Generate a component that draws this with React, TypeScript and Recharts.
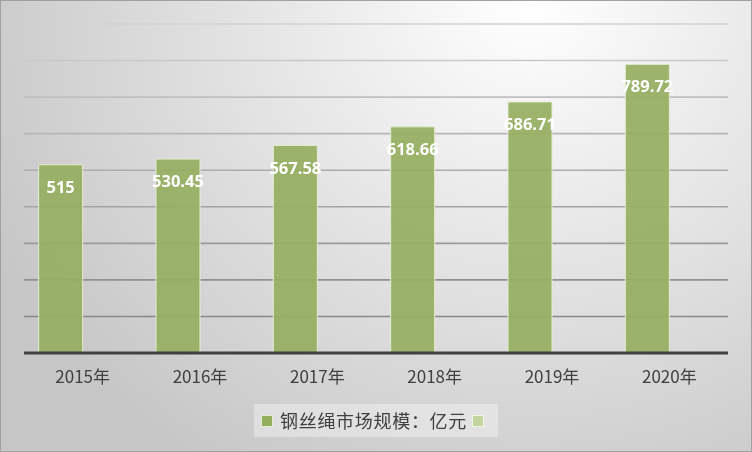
import React from 'react';
import { BarChart, Bar, XAxis, YAxis, CartesianGrid, Legend, LabelList } from 'recharts';

const years = ['2015年', '2016年', '2017年', '2018年', '2019年', '2020年'];
const marketSize = [515, 530.45, 567.58, 618.66, 686.71, 789.72];
const blankSeries = [null, null, null, null, null, null];
const seriesName = '钢丝绳市场规模：亿元';
const yTicks = [0, 100, 200, 300, 400, 500, 600, 700, 800, 900];

const data = years.map((year, i) => ({ year, size: marketSize[i], blank: blankSeries[i] }));

const CJK = '"Noto Sans CJK SC", "Noto Sans", sans-serif';

const BarLabel = (props: any) => {
  const { x, y, width, value } = props;
  if (value == null) return null;
  return (
    <text
      x={Number(x) + Number(width) / 2}
      y={Number(y) + 28}
      textAnchor="middle"
      fill="#ffffff"
      fontFamily='"Open Sans", sans-serif'
      fontWeight={700}
      fontSize={16.5}
    >
      {value}
    </text>
  );
};

const LegendContent = () => (
  <div style={{ display: 'flex', justifyContent: 'center' }}>
    <div
      style={{
        height: 33,
        width: 244,
        background: 'rgba(255,255,255,0.35)',
        display: 'flex',
        alignItems: 'center',
        boxSizing: 'border-box',
        paddingLeft: 7,
      }}
    >
      <span style={{ display: 'inline-block', width: 10, height: 10, background: '#94ae60', border: '1px solid #e4ecd4' }} />
      <span style={{ marginLeft: 7, fontFamily: CJK, fontSize: 18, color: '#404040', lineHeight: '33px', letterSpacing: 0.7, whiteSpace: 'nowrap' }}>
        {seriesName}
      </span>
      <span style={{ display: 'inline-block', marginLeft: 5, width: 10, height: 10, background: '#c3d5a0', border: '1px solid #eef3e4' }} />
    </div>
  </div>
);

export default function App() {
  return (
    <div
      style={{
        position: 'fixed',
        left: 0,
        top: 0,
        width: 752,
        height: 452,
        boxSizing: 'border-box',
        border: '1px solid #a0a0a0',
        background: 'radial-gradient(ellipse 600px 560px at 530px 0px, #ffffff 0%, #c6c6c6 100%)',
        overflow: 'hidden',
      }}
    >
      <div style={{ position: 'absolute', left: -1, top: -1 }}>
        <BarChart
          width={752}
          height={452}
          data={data}
          margin={{ top: 24, right: 24, left: 24, bottom: 15 }}
          barCategoryGap="12.5%"
          barGap={0}
        >
          <defs>
            <linearGradient id="gridGrad" gradientUnits="userSpaceOnUse" x1="0" y1="24" x2="0" y2="316">
              <stop offset="0%" stopColor="#d2d2d2" />
              <stop offset="100%" stopColor="#888888" />
            </linearGradient>
          </defs>
          <CartesianGrid vertical={false} stroke="url(#gridGrad)" strokeWidth={1.6} />
          <YAxis hide domain={[0, 900]} ticks={yTicks} />
          <XAxis
            dataKey="year"
            height={51}
            tickLine={false}
            tickSize={0}
            tickMargin={18}
            axisLine={{ stroke: '#404040', strokeWidth: 3 }}
            tick={{ fill: '#404040', fontSize: 17, fontFamily: CJK }}
            interval={0}
          />
          <Legend verticalAlign="bottom" content={<LegendContent />} wrapperStyle={{ left: 0, width: 752, bottom: 15 }} />
          <Bar dataKey="size" name={seriesName} fill="#94ae60" fillOpacity={0.93} stroke="#e4ecd4" strokeWidth={1} isAnimationActive={false}>
            <LabelList dataKey="size" content={<BarLabel />} />
          </Bar>
          <Bar dataKey="blank" name=" " fill="#c3d5a0" isAnimationActive={false} />
        </BarChart>
      </div>
    </div>
  );
}
